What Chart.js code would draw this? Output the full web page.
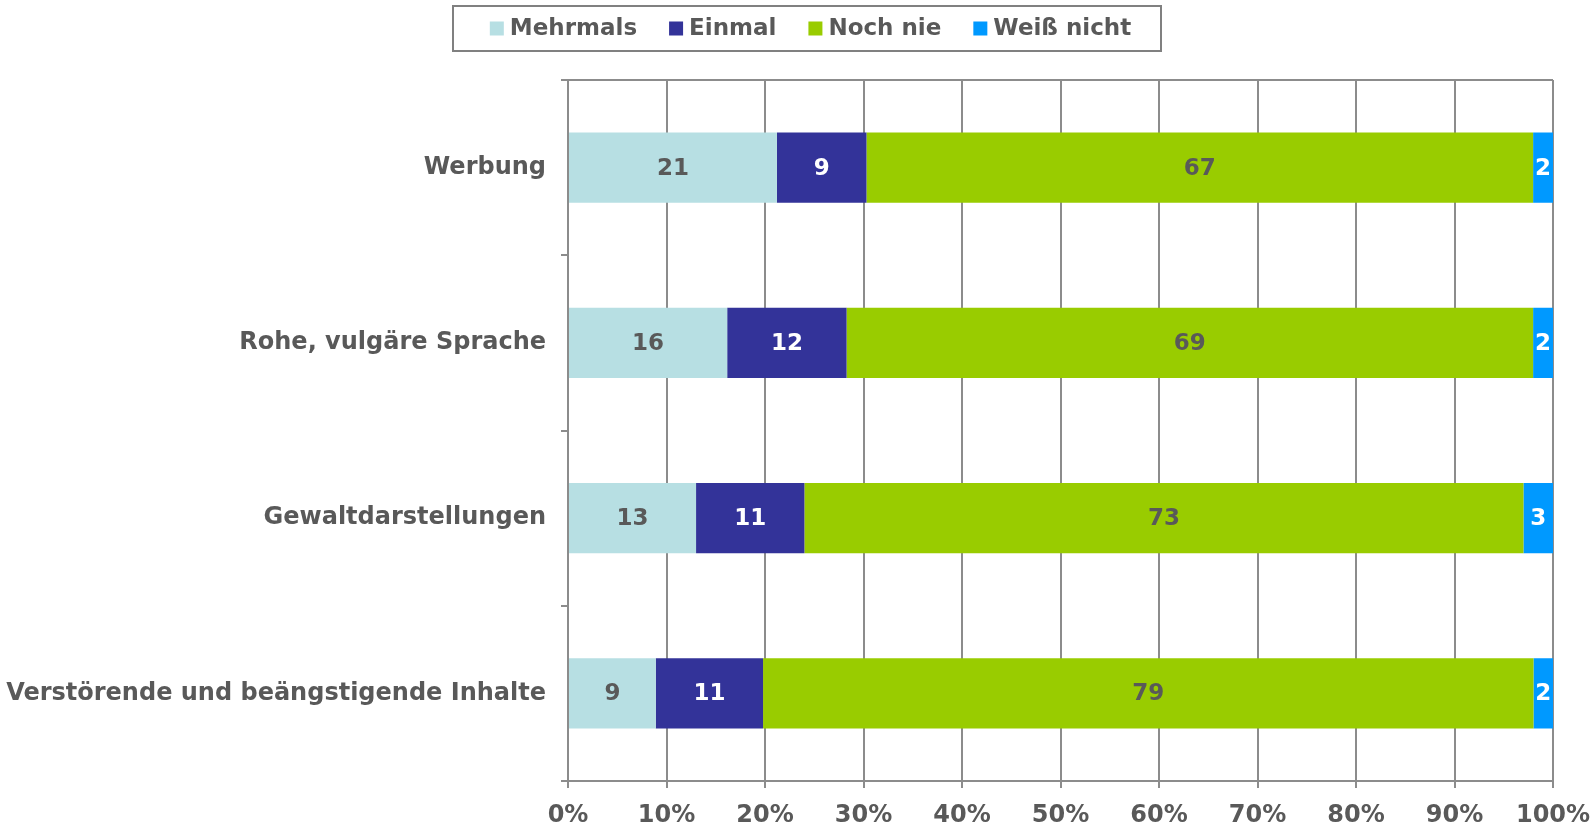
<!DOCTYPE html>
<html>
<head>
<meta charset="utf-8">
<script src="https://cdn.jsdelivr.net/npm/chart.js@4"></script>
<style>
  html, body { margin: 0; padding: 0; background: #ffffff; }
  #wrap { width: 1596px; height: 825px; position: relative; }
</style>
</head>
<body>
<div id="wrap"><canvas id="c" width="1596" height="825"></canvas></div>
<script>
// ---- data ----
const categories = ['Werbung', 'Rohe, vulgäre Sprache', 'Gewaltdarstellungen', 'Verstörende und beängstigende Inhalte'];
const seriesNames = ['Mehrmals', 'Einmal', 'Noch nie', 'Weiß nicht'];
const mehrmals   = [21, 16, 13, 9];
const einmal     = [9, 12, 11, 11];
const nochNie    = [67, 69, 73, 79];
const weissNicht = [2, 2, 3, 2];
const xTickValues = [0, 10, 20, 30, 40, 50, 60, 70, 80, 90, 100];

// ---- styles ----
const colors = ['#B7DFE3', '#333399', '#99CC00', '#0099FF'];
const labelColors = ['#595959', '#FFFFFF', '#595959', '#FFFFFF'];
const gray = '#8C8C8C';
const textGray = '#595959';
const FONT = "'DejaVu Sans', Verdana, sans-serif";

const raw = [mehrmals, einmal, nochNie, weissNicht];
const totals = categories.map((_, i) => raw.reduce((s, arr) => s + arr[i], 0));
const shares = raw.map(arr => arr.map((v, i) => v / totals[i] * 100));

const datasets = seriesNames.map((name, k) => ({
  label: name,
  data: shares[k],
  rawValues: raw[k],
  backgroundColor: colors[k],
  borderWidth: 0,
  barPercentage: 0.4,
  categoryPercentage: 1.0
}));

// value labels in the middle of each bar segment
const valueLabels = {
  id: 'valueLabels',
  afterDatasetsDraw(chart) {
    const ctx = chart.ctx;
    ctx.save();
    ctx.font = 'bold 23px ' + FONT;
    ctx.textAlign = 'center';
    ctx.textBaseline = 'middle';
    chart.data.datasets.forEach((ds, k) => {
      const meta = chart.getDatasetMeta(k);
      meta.data.forEach((bar, i) => {
        const p = bar.getProps(['x', 'y', 'base'], true);
        ctx.fillStyle = labelColors[k];
        ctx.fillText(String(ds.rawValues[i]), (p.x + p.base) / 2, p.y + 1);
      });
    });
    ctx.restore();
  }
};

// boxed legend at the top, built from the datasets
const boxedLegend = {
  id: 'boxedLegend',
  afterDraw(chart) {
    const ctx = chart.ctx;
    const ds = chart.data.datasets;
    ctx.save();
    ctx.font = 'bold 23px ' + FONT;
    const sq = 14, textGap = 6, itemGap = 32;
    const widths = ds.map(d => ctx.measureText(d.label).width);
    const total = widths.reduce((s, w) => s + sq + textGap + w, 0) + itemGap * (ds.length - 1);
    const boxLeft = 453, boxRight = 1161, boxTop = 6, boxBottom = 51;
    const padL = 32, padR = 25;
    const inner = (boxRight - padR) - (boxLeft + padL);
    let x = boxLeft + padL + (inner - total) / 2;
    const cy = (boxTop + boxBottom) / 2;
    ctx.strokeStyle = '#808080';
    ctx.lineWidth = 2;
    ctx.strokeRect(boxLeft, boxTop, boxRight - boxLeft, boxBottom - boxTop);
    ctx.textBaseline = 'middle';
    ctx.textAlign = 'left';
    ds.forEach((d, k) => {
      ctx.fillStyle = d.backgroundColor;
      ctx.fillRect(x, cy - sq / 2, sq, sq);
      ctx.fillStyle = textGray;
      ctx.fillText(d.label, x + sq + textGap, cy + 1);
      x += sq + textGap + widths[k] + itemGap;
    });
    ctx.restore();
  }
};

new Chart(document.getElementById('c'), {
  type: 'bar',
  data: { labels: categories, datasets },
  plugins: [valueLabels, boxedLegend],
  options: {
    indexAxis: 'y',
    responsive: false,
    animation: false,
    devicePixelRatio: 1,
    layout: { padding: { left: 0, right: 43, top: 80, bottom: 0 } },
    plugins: {
      tooltip: { enabled: false },
      legend: { display: false }
    },
    scales: {
      x: {
        stacked: true,
        min: 0,
        max: 100,
        afterBuildTicks(scale) { scale.ticks = xTickValues.map(v => ({ value: v })); },
        ticks: {
          callback: v => v + '%',
          color: textGray,
          padding: 13,
          maxRotation: 0,
          autoSkip: false,
          font: { family: FONT, size: 24, weight: 'bold' }
        },
        grid: { color: gray, lineWidth: 2, tickLength: 7, drawOnChartArea: true },
        border: { color: gray, width: 2 },
        afterFit(scale) {
          scale.height = 44;
          scale.paddingLeft = 0;
          scale.paddingRight = 0;
        }
      },
      y: {
        stacked: true,
        ticks: {
          color: textGray,
          padding: 15,
          font: { family: FONT, size: 24, weight: 'bold' }
        },
        grid: {
          offset: true,
          lineWidth: 2,
          tickLength: 7,
          drawOnChartArea: true,
          color: c => (c.index === 0 ? gray : 'rgba(0,0,0,0)'),
          tickColor: gray
        },
        border: { color: gray, width: 2 },
        afterFit(scale) {
          scale.width = 568;
          scale.paddingTop = 0;
          scale.paddingBottom = 0;
        }
      }
    }
  }
});
</script>
</body>
</html>
